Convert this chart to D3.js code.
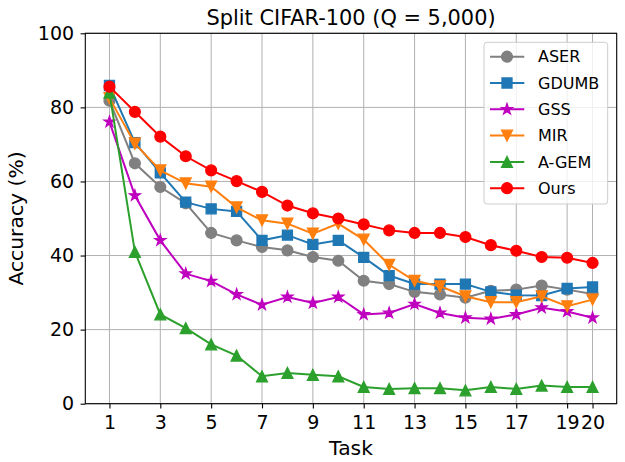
<!DOCTYPE html>
<html><head><meta charset="utf-8">
<script src="https://cdn.jsdelivr.net/npm/d3@7"></script>
<style>body{margin:0;background:#fff}svg{display:block;font-family:"DejaVu Sans",sans-serif}</style>
</head><body><svg id="c" width="625" height="462"></svg>
<script>
const tasks = d3.range(1, 21);
const xTicks = [1,3,5,7,9,11,13,15,17,19,20];
const yTicks = [0,20,40,60,80,100];
const seriesNames = ["ASER","GDUMB","GSS","MIR","A-GEM","Ours"];
const aser  = [81.8,64.9,58.5,54.1,46.1,44.1,42.3,41.4,39.6,38.6,33.2,32.3,30.2,29.5,28.6,30.5,30.8,31.9,30.8,29.6];
const gdumb = [85.9,70.5,62.3,54.4,52.6,51.9,44.1,45.5,43.0,44.1,39.5,34.6,32.3,32.3,32.3,30.2,29.3,29.2,31.1,31.5];
const gss   = [76.1,56.2,44.1,35.1,33.1,29.5,26.7,28.8,27.2,28.8,24.1,24.5,26.9,24.5,23.2,22.9,24.1,25.9,24.9,23.2];
const mir   = [82.5,70.2,63.0,59.5,58.6,53.0,49.5,48.6,45.9,48.6,44.3,37.5,33.2,31.7,29.0,27.4,27.4,29.0,26.3,28.1];
const agem  = [84.0,41.0,24.1,20.4,16.0,13.0,7.4,8.3,7.8,7.4,4.5,4.0,4.2,4.2,3.6,4.5,4.0,4.9,4.5,4.5];
const ours  = [85.6,78.8,72.1,66.8,63.0,60.1,57.2,53.5,51.4,50.0,48.4,46.8,46.1,46.1,45.0,42.8,41.3,39.6,39.4,38.0];
const seriesValues = [aser, gdumb, gss, mir, agem, ours];
const colors = ["#808080","#1f77b4","#bf00bf","#ff7f0e","#2ca02c","#ff0000"];
const markers = ["circle","square","star","tridown","triup","circle"];

const L = 85.3, R = 616.7, T = 33.3, B = 403.7;
const x = d3.scaleLinear().domain([0.05, 20.95]).range([L, R]);
const y = d3.scaleLinear().domain([0, 100]).range([B, T]);
const svg = d3.select("#c");

function markerPath(kind, s) {
  const p = d3.path();
  if (kind === "circle") { p.arc(0,0,s/2,0,2*Math.PI); }
  else if (kind === "square") { const h = s*0.46; p.rect(-h,-h,2*h,2*h); }
  else if (kind === "star") {
    const ro = s*0.52, ri = ro*0.381966;
    for (let i=0;i<10;i++){ const r = i%2?ri:ro; const a = -Math.PI/2 + i*Math.PI/5;
      if(i===0) p.moveTo(r*Math.cos(a), r*Math.sin(a)); else p.lineTo(r*Math.cos(a), r*Math.sin(a)); }
    p.closePath();
  } else if (kind === "triup") { const h=s/2; p.moveTo(0,-h); p.lineTo(-h,h); p.lineTo(h,h); p.closePath(); }
  else if (kind === "tridown") { const h=s/2; p.moveTo(0,h); p.lineTo(-h,-h); p.lineTo(h,-h); p.closePath(); }
  return p.toString();
}

// grid
const grid = svg.append("g").attr("stroke","#b0b0b0").attr("stroke-width",1);
grid.selectAll("line.v").data(xTicks).enter().append("line")
  .attr("x1",d=>x(d)).attr("x2",d=>x(d)).attr("y1",T).attr("y2",B);
grid.selectAll("line.h").data(yTicks).enter().append("line")
  .attr("y1",d=>y(d)).attr("y2",d=>y(d)).attr("x1",L).attr("x2",R);

// axes
const xAxis = svg.append("g").attr("transform",`translate(0,${B})`)
  .call(d3.axisBottom(x).tickValues(xTicks).tickSize(4.7).tickPadding(6).tickFormat(d3.format("d")));
const yAxis = svg.append("g").attr("transform",`translate(${L},0)`)
  .call(d3.axisLeft(y).tickValues(yTicks).tickSize(4.7).tickPadding(6.5).tickFormat(d3.format("d")));
[xAxis,yAxis].forEach(a=>{
  a.select(".domain").remove();
  a.selectAll("line").attr("stroke","#000").attr("stroke-width",1.1);
  a.selectAll("text").attr("font-size",19).attr("fill","#000").attr("font-family","DejaVu Sans");
});
xAxis.selectAll("text").attr("dy","0.76em");

// series
const line = d3.line().x((d,i)=>x(tasks[i])).y(d=>y(d));
seriesValues.forEach((vals,k)=>{
  const g = svg.append("g");
  g.append("path").attr("d",line(vals)).attr("fill","none").attr("stroke",colors[k]).attr("stroke-width",2);
  g.selectAll("path.m").data(vals).enter().append("path")
    .attr("d",markerPath(markers[k],10.85))
    .attr("transform",(d,i)=>`translate(${x(tasks[i])},${y(d)})`)
    .attr("fill",colors[k]).attr("stroke",colors[k]).attr("stroke-width",1.33).attr("stroke-linejoin","miter");
});

// frame
svg.append("rect").attr("x",L).attr("y",T).attr("width",R-L).attr("height",B-T)
  .attr("fill","none").attr("stroke","#000").attr("stroke-width",1.1);

// title and labels
svg.append("text").attr("x",(L+R)/2).attr("y",25).attr("text-anchor","middle")
  .attr("font-size",20.9).text("Split CIFAR-100 (Q = 5,000)");
svg.append("text").attr("x",(L+R)/2).attr("y",454.5).attr("text-anchor","middle")
  .attr("font-size",20.3).text("Task");
svg.append("text").attr("transform",`translate(23,${(T+B)/2}) rotate(-90)`).attr("text-anchor","middle")
  .attr("font-size",20.3).text("Accuracy (%)");

// legend
const lg = svg.append("g");
lg.append("rect").attr("x",484).attr("y",42.3).attr("width",123.7).attr("height",161.7).attr("rx",3)
  .attr("fill","#fff").attr("fill-opacity",0.8).attr("stroke","#cccccc").attr("stroke-width",1);
seriesNames.forEach((n,k)=>{
  const yy = 56.7 + k*26.3;
  lg.append("line").attr("x1",490).attr("x2",524.3).attr("y1",yy).attr("y2",yy).attr("stroke",colors[k]).attr("stroke-width",2);
  lg.append("path").attr("d",markerPath(markers[k],10.85)).attr("transform",`translate(507,${yy})`)
    .attr("fill",colors[k]).attr("stroke",colors[k]).attr("stroke-width",1.33);
  lg.append("text").attr("x",538).attr("y",yy).attr("dy","0.35em").attr("font-size",16).text(n);
});
</script></body></html>
